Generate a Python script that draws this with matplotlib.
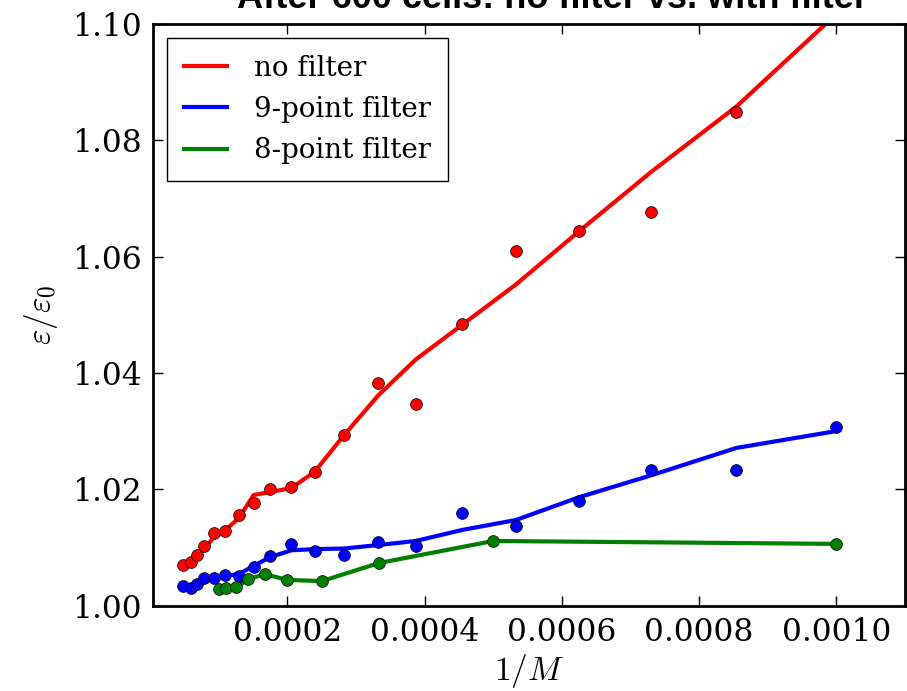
import matplotlib
matplotlib.use('Agg')
import matplotlib.pyplot as plt
from matplotlib.ticker import FormatStrFormatter

plt.rcParams['font.family'] = 'DejaVu Serif'
plt.rcParams['mathtext.fontset'] = 'cm'

# 1/M sample points (shared by the unfiltered and 9-point runs)
inv_m = [4.78e-5, 5.95e-5, 6.87e-5, 7.89e-5, 9.30e-5, 1.095e-4, 1.289e-4,
         1.507e-4, 1.740e-4, 2.057e-4, 2.396e-4, 2.825e-4, 3.321e-4,
         3.869e-4, 4.549e-4, 5.329e-4, 6.245e-4, 7.305e-4, 8.544e-4, 1.0e-3]

# no filter: measured values and smoothed curve
eps_nofilter = [1.0070, 1.0075, 1.0087, 1.0102, 1.0125, 1.0129, 1.0156,
                1.0177, 1.0200, 1.0203, 1.0230, 1.0293, 1.0382, 1.0347,
                1.0484, 1.0610, 1.0644, 1.0677, 1.0849, 1.1050]
eps_nofilter_fit = [1.0070, 1.0077, 1.0085, 1.0097, 1.0118, 1.0130, 1.0150,
                    1.0190, 1.0195, 1.0202, 1.0230, 1.0293, 1.0361, 1.0423,
                    1.0483, 1.0552, 1.0643, 1.0746, 1.0858, 1.1017]

# 9-point filter: measured values and smoothed curve
eps_9pt = [1.0034, 1.0030, 1.0037, 1.0047, 1.0047, 1.0052, 1.0051, 1.0066,
           1.0085, 1.0106, 1.0093, 1.0087, 1.0110, 1.0102, 1.0159, 1.0136,
           1.0180, 1.0233, 1.0233, 1.0307]
eps_9pt_fit = [1.0034, 1.0031, 1.0039, 1.0046, 1.0048, 1.0051, 1.0054, 1.0068,
               1.0083, 1.0095, 1.0097, 1.0098, 1.0104, 1.0111, 1.0130, 1.0147,
               1.0186, 1.0224, 1.0271, 1.0300]

# 8-point filter
inv_m_8pt = [1.0e-4, 1.111e-4, 1.25e-4, 1.4286e-4, 1.6667e-4, 2.0e-4,
             2.5e-4, 3.333e-4, 5.0e-4, 1.0e-3]
eps_8pt = [1.0028, 1.0030, 1.0031, 1.0045, 1.0054, 1.0044, 1.0042,
           1.0073, 1.0111, 1.0106]

fig = plt.figure(figsize=(9.07, 6.91), dpi=100)
ax = fig.add_axes([0.1687, 0.1237, 0.829, 0.8416])

ax.plot(inv_m, eps_nofilter_fit, color='r', lw=3, label='no filter')
ax.plot(inv_m, eps_9pt_fit, color='b', lw=3, label='9-point filter')
ax.plot(inv_m_8pt, eps_8pt, color='g', lw=3, label='8-point filter')

mk = dict(ls='none', marker='o', ms=8.5, mec='k', mew=0.5, zorder=3)
ax.plot(inv_m, eps_nofilter, color='r', **mk)
ax.plot(inv_m, eps_9pt, color='b', **mk)
ax.plot(inv_m_8pt, eps_8pt, color='g', **mk)

ax.set_xlim(4e-6, 0.0011)
ax.set_ylim(1.0, 1.1)
ax.set_xticks([0.0002, 0.0004, 0.0006, 0.0008, 0.0010])
ax.set_yticks([1.00, 1.02, 1.04, 1.06, 1.08, 1.10])
ax.xaxis.set_major_formatter(FormatStrFormatter('%.4f'))
ax.yaxis.set_major_formatter(FormatStrFormatter('%.2f'))
ax.tick_params(direction='in', top=True, right=True, length=7, width=1,
               labelsize=22.5, pad=8)
for s in ax.spines.values():
    s.set_linewidth(2)

ax.set_xlabel('$1/M$', fontsize=24, labelpad=3)
ax.set_ylabel(r'$\varepsilon/\varepsilon_0$', fontsize=24, labelpad=9)

leg = ax.legend(loc='upper left', fontsize=20, fancybox=False, framealpha=1,
                edgecolor='k', borderaxespad=0.5, borderpad=0.6,
                handlelength=1.55, handletextpad=1.0, labelspacing=0.52)
leg.get_frame().set_linewidth(1)

fig.text(0.609, 1 - 8 / 691, 'After 600 cells: no filter vs. with filter',
         ha='center', va='baseline', fontsize=26, fontweight='bold',
         family='Liberation Sans')

fig.savefig('out.png', dpi=100)
